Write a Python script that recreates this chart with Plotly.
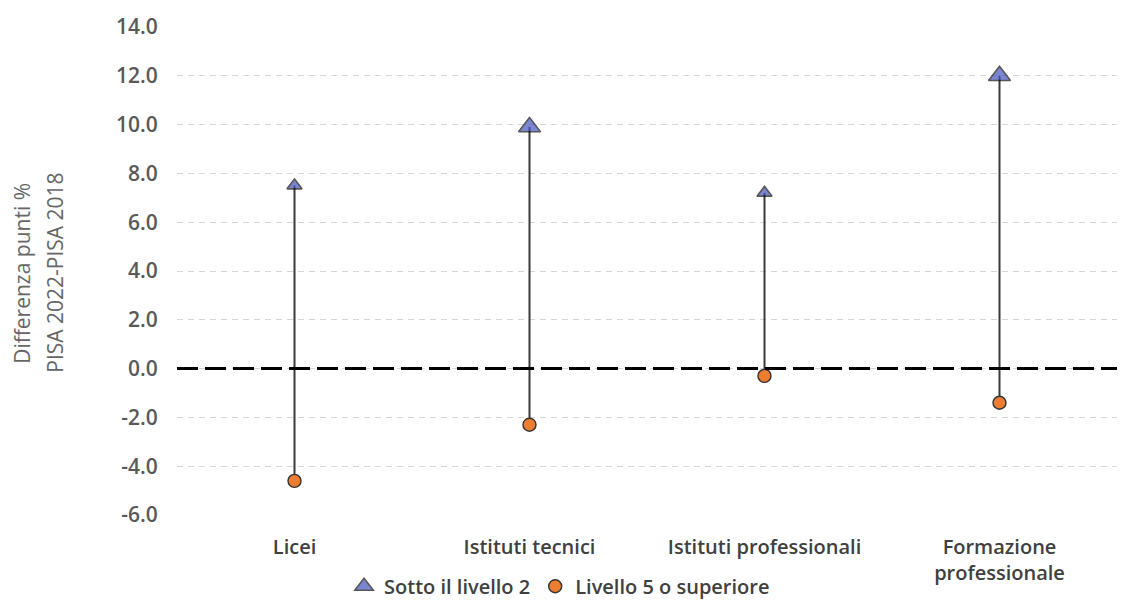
import plotly.graph_objects as go

categories = ["Licei", "Istituti tecnici", "Istituti professionali", "Formazione<br>professionale"]
sotto_livello_2 = [7.5, 9.9, 7.2, 12.0]
livello_5_sup = [-4.6, -2.3, -0.3, -1.4]
y_ticks = [-6, -4, -2, 0, 2, 4, 6, 8, 10, 12, 14]
y_tick_labels = [f"{v:.1f}" for v in y_ticks]
y_title_lines = ["Differenza punti %", "PISA 2022-PISA 2018"]

font_fam = "Open Sans, Liberation Sans, sans-serif"
grey = "#595959"

# connector lines from the data
lx, ly = [], []
for c, lo, hi in zip(categories, livello_5_sup, sotto_livello_2):
    lx += [c, c, None]
    ly += [lo, hi, None]

fig = go.Figure()
fig.add_trace(go.Scatter(x=lx, y=ly, mode="lines", line=dict(color="#3a3a3a", width=2),
                         showlegend=False, hoverinfo="skip"))
fig.add_trace(go.Scatter(x=categories, y=sotto_livello_2, mode="markers", name="Sotto il livello 2",
                         marker=dict(symbol="triangle-up", size=[13, 19, 13, 19], color="#4454bf",
                                     line=dict(color="#111111", width=1.6))))
fig.add_trace(go.Scatter(x=categories, y=livello_5_sup, mode="markers", name="Livello 5 o superiore",
                         marker=dict(symbol="circle", size=13, color="#ed7d31",
                                     line=dict(color="#333333", width=1.4))))

fig.add_hline(y=0, line=dict(color="black", width=3, dash="21px,7px"), layer="above")

for xpos, line in zip([-0.165, -0.13], y_title_lines):
    fig.add_annotation(text=line, textangle=-90,
                       xref="paper", yref="paper", x=xpos, y=0.496, xanchor="center", yanchor="middle",
                       showarrow=False, font=dict(size=21, color="#666666", family=font_fam))

fig.update_layout(
    width=1129, height=601,
    margin=dict(l=169, r=20, t=19, b=94, autoexpand=False),
    paper_bgcolor="white", plot_bgcolor="white",
    font=dict(family=font_fam, color=grey, size=14),
    legend=dict(orientation="h", x=0.407, xanchor="center", y=-0.146, yanchor="middle",
                font=dict(size=20, color="#404040", weight=600), itemwidth=30, traceorder="normal"),
    showlegend=True,
)
fig.update_xaxes(type="category", showgrid=False, zeroline=False, showline=False, automargin=False,
                 ticks="outside", ticklen=14, tickcolor="rgba(0,0,0,0)",
                 tickfont=dict(size=20, color="#404040", weight=600), range=[-0.5, 3.5])
fig.update_yaxes(range=[-6, 14], tickvals=y_ticks, ticktext=y_tick_labels, automargin=False,
                 showgrid=True, gridcolor="#d6d6d6", griddash="6px,5px", gridwidth=1,
                 zeroline=False, showline=False,
                 ticks="outside", ticklen=14, tickcolor="rgba(0,0,0,0)",
                 tickfont=dict(size=21, color=grey, weight=600))

fig.write_html("out.html")
